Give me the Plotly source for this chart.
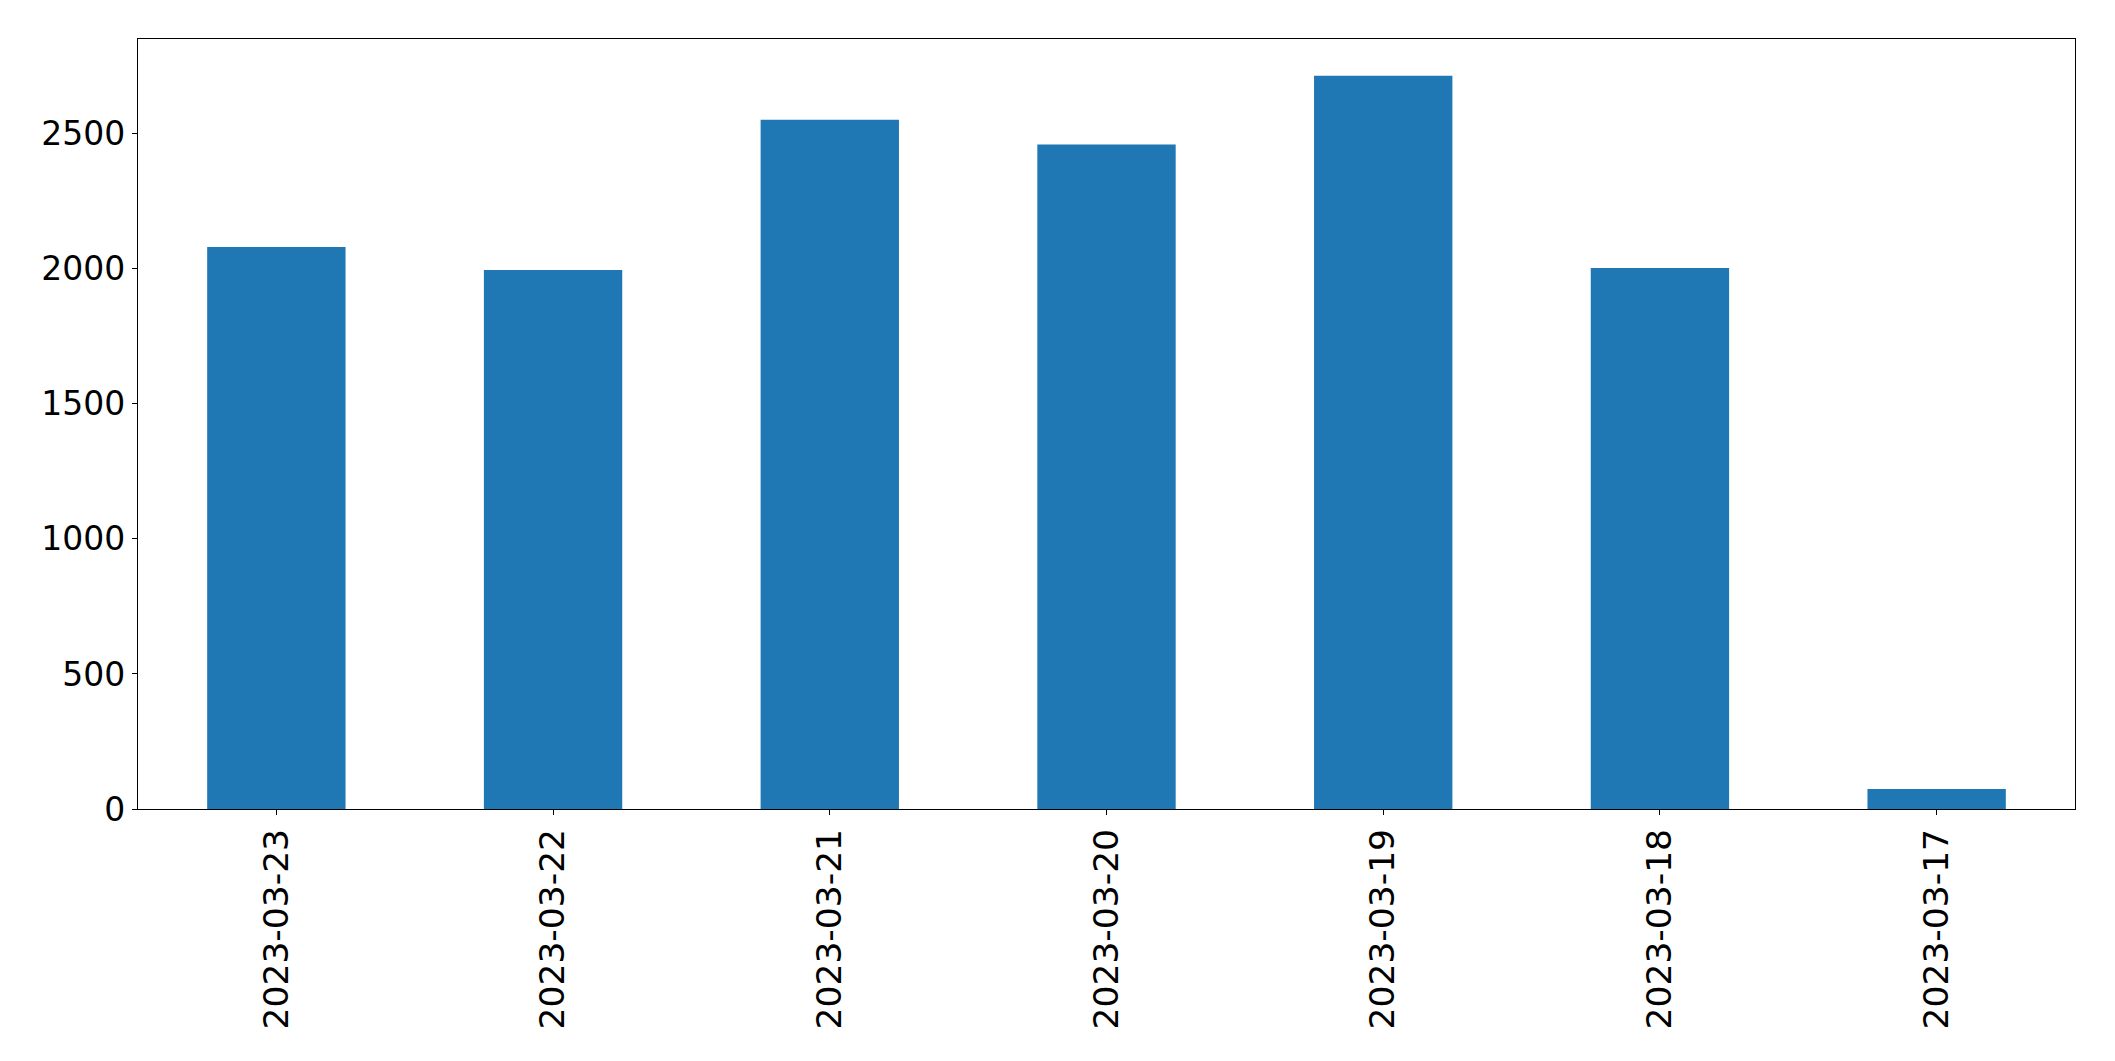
import plotly.graph_objects as go

dates = ["2023-03-23", "2023-03-22", "2023-03-21", "2023-03-20",
         "2023-03-19", "2023-03-18", "2023-03-17"]
counts = [2081, 1996, 2552, 2460, 2715, 2003, 74]

y_ticks = [0, 500, 1000, 1500, 2000, 2500]

fig = go.Figure()
fig.add_trace(go.Bar(x=dates, y=counts, marker=dict(color="#1f77b4", line=dict(width=0)),
                     width=0.5))

xfont = dict(family="DejaVu Sans", size=34.5, color="black")
yfont = dict(family="DejaVu Sans", size=33, color="black")

fig.update_layout(
    width=2115, height=1061,
    margin=dict(l=130, r=48, t=31, b=260),
    paper_bgcolor="white", plot_bgcolor="white",
    showlegend=False,
    font=xfont,
    xaxis=dict(type="category", range=[-0.5, 6.5], tickangle=-90,
               showline=True, linecolor="black", linewidth=1.3, mirror=True,
               ticks="outside", ticklen=5, tickcolor="black", tickwidth=1.3,
               showgrid=False, zeroline=False, tickfont=xfont),
    yaxis=dict(range=[0, 2851], tickvals=y_ticks, ticktext=[str(v) for v in y_ticks],
               showline=True, linecolor="black", linewidth=1.3, mirror=True,
               ticks="outside", ticklen=5, tickcolor="black", tickwidth=1.3,
               showgrid=False, zeroline=False, tickfont=yfont),
)

fig.write_html("out.html")
